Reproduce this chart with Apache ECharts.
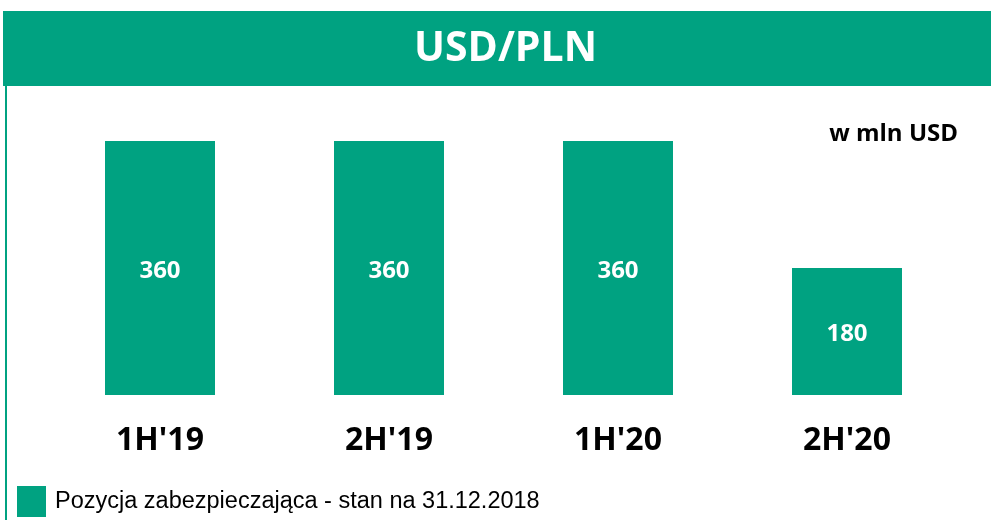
<!DOCTYPE html>
<html>
<head>
<meta charset="utf-8">
<script src="https://cdn.jsdelivr.net/npm/echarts@6/dist/echarts.min.js"></script>
<style>
  html, body { margin: 0; padding: 0; background: #ffffff; }
  #chart { width: 991px; height: 520px; }
</style>
</head>
<body>
<div id="chart"></div>
<script>
// Hedging position by half-year, millions of USD
const periods = ["1H'19", "2H'19", "1H'20", "2H'20"];
const hedgeValues = [360, 360, 360, 180];
const seriesName = 'Pozycja zabezpieczająca - stan na 31.12.2018';
const chartTitle = 'USD/PLN';
const unitLabel = 'w mln USD';

const GREEN = '#00A281';

const chart = echarts.init(document.getElementById('chart'), null, { renderer: 'canvas' });

chart.setOption({
  backgroundColor: '#ffffff',
  animation: false,
  graphic: [
    // header band
    { type: 'rect', z: 0, shape: { x: 3, y: 11, width: 988, height: 75 }, style: { fill: GREEN } },
    // left frame line
    { type: 'rect', z: 0, shape: { x: 5, y: 86, width: 2, height: 434 }, style: { fill: GREEN } },
    // unit note
    {
      type: 'text', right: 33, top: 122, z: 5,
      style: { text: unitLabel, fill: '#000000', font: 'bold 24px "Open Sans", sans-serif' }
    }
  ],
  title: {
    text: chartTitle,
    left: 409,
    top: 24,
    textStyle: { color: '#ffffff', fontFamily: 'Open Sans', fontWeight: 'bold', fontSize: 41 }
  },
  legend: {
    data: [seriesName],
    left: 12,
    top: 481,
    icon: 'rect',
    itemWidth: 29,
    itemHeight: 31,
    itemGap: 6,
    textStyle: { color: '#000000', fontFamily: 'Liberation Sans', fontSize: 23.5, padding: [0, 0, 0, 4] }
  },
  grid: { left: 45.5, right: 29.5, top: 141, bottom: 125, containLabel: false },
  xAxis: {
    type: 'category',
    data: periods,
    axisLine: { show: false },
    axisTick: { show: false },
    axisLabel: {
      margin: 30,
      color: '#000000',
      fontFamily: 'Open Sans',
      fontWeight: 'bold',
      fontSize: 32
    }
  },
  yAxis: {
    type: 'value',
    min: 0,
    max: 360,
    show: false,
    splitLine: { show: false }
  },
  series: [{
    name: seriesName,
    type: 'bar',
    data: hedgeValues,
    barWidth: 110,
    itemStyle: { color: GREEN },
    label: {
      show: true,
      position: 'inside',
      offset: [0, 3],
      color: '#ffffff',
      fontFamily: 'Open Sans',
      fontWeight: 'bold',
      fontSize: 24
    }
  }]
});
</script>
</body>
</html>
